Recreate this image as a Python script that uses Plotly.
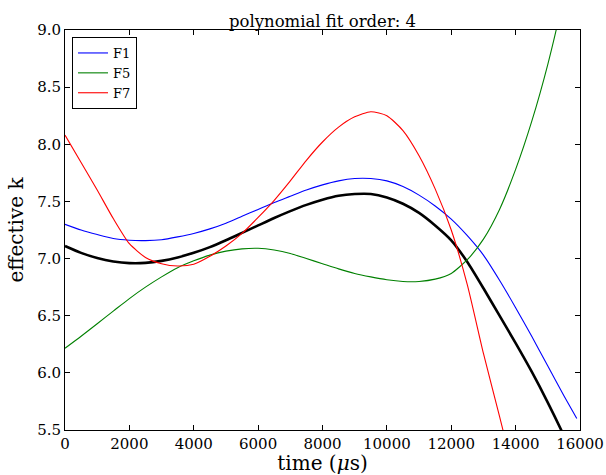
import plotly.graph_objects as go

# time samples (microseconds)
time_us = [0, 500, 1000, 1500, 2000, 2500, 3000, 3500, 4000, 4500, 5000, 5500,
           6000, 6500, 7000, 7500, 8000, 8500, 9000, 9500, 10000, 10500, 11000,
           11500, 12000, 12500, 13000, 13500, 14000, 14500, 15000, 15500, 15900]

# series values
f1 = [7.30, 7.25, 7.21, 7.175, 7.16, 7.157, 7.165, 7.19, 7.22, 7.26, 7.31, 7.37,
      7.43, 7.49, 7.545, 7.60, 7.645, 7.68, 7.70, 7.70, 7.68, 7.63, 7.555,
      7.46, 7.345, 7.20, 7.03, 6.81, 6.57, 6.32, 6.06, 5.80, 5.60]
f5 = [6.215, 6.32, 6.43, 6.54, 6.65, 6.75, 6.84, 6.92, 6.98, 7.03, 7.065, 7.085,
      7.09, 7.075, 7.045, 7.00, 6.955, 6.91, 6.87, 6.84, 6.815, 6.80, 6.80,
      6.82, 6.87, 6.99, 7.17, 7.43, 7.78, 8.20, 8.70, 9.30, 9.85]
f7 = [8.08, 7.84, 7.60, 7.35, 7.13, 7.01, 6.955, 6.935, 6.95, 7.02, 7.11, 7.22,
      7.36, 7.51, 7.68, 7.86, 8.02, 8.15, 8.24, 8.285, 8.25, 8.12, 7.90,
      7.61, 7.25, 6.77, 6.17, 5.62, 5.05, 4.45, 3.85, 3.20, 2.70]
mean_fit = [7.11, 7.05, 7.005, 6.975, 6.96, 6.962, 6.98, 7.01, 7.05, 7.10, 7.16, 7.225,
            7.29, 7.355, 7.415, 7.47, 7.515, 7.55, 7.565, 7.565, 7.535, 7.48, 7.40,
            7.29, 7.16, 6.97, 6.74, 6.50, 6.26, 6.01, 5.74, 5.45, 5.20]

x_ticks = [0, 2000, 4000, 6000, 8000, 10000, 12000, 14000, 16000]
y_ticks = [5.5, 6.0, 6.5, 7.0, 7.5, 8.0, 8.5, 9.0]

FONT = "DejaVu Serif"
LINE_SHAPE = dict(shape="spline", smoothing=0.6)

fig = go.Figure()
fig.add_trace(go.Scatter(x=time_us, y=mean_fit, mode="lines", showlegend=False,
                         line=dict(color="black", width=2.6, **LINE_SHAPE)))
fig.add_trace(go.Scatter(x=time_us, y=f1, mode="lines", name="F1",
                         line=dict(color="#0000ff", width=1.1, **LINE_SHAPE)))
fig.add_trace(go.Scatter(x=time_us, y=f5, mode="lines", name="F5",
                         line=dict(color="#008000", width=1.1, **LINE_SHAPE)))
fig.add_trace(go.Scatter(x=time_us, y=f7, mode="lines", name="F7",
                         line=dict(color="#ff0000", width=1.1, **LINE_SHAPE)))

fig.update_layout(
    width=606, height=475,
    margin=dict(l=65, r=26, t=30, b=45),
    paper_bgcolor="white", plot_bgcolor="white",
    font=dict(family=FONT, color="black", size=15),
    title=dict(text="polynomial fit order: 4", x=0.5, xref="paper", xanchor="center",
               y=1, yref="paper", yanchor="bottom", pad=dict(b=3),
               font=dict(family=FONT, size=16.5)),
    legend=dict(x=0.0136, y=0.9825, xanchor="left", yanchor="top",
                bordercolor="black", borderwidth=1, bgcolor="white",
                font=dict(family=FONT, size=13), tracegroupgap=0),
    xaxis=dict(range=[0, 16000], tickvals=x_ticks, ticktext=[str(v) for v in x_ticks],
               showgrid=False, zeroline=False, showline=True, linecolor="black", linewidth=1,
               mirror="ticks", ticks="inside", ticklen=5, tickcolor="black",
               tickfont=dict(family=FONT, size=15),
               title=dict(text="time (<i>μ</i>s)", font=dict(family=FONT, size=20), standoff=4),
               automargin=False),
    yaxis=dict(range=[5.5, 9.0], tickvals=y_ticks, ticktext=[f"{v:.1f}" for v in y_ticks],
               showgrid=False, zeroline=False, showline=True, linecolor="black", linewidth=1,
               mirror="ticks", ticks="inside", ticklen=5, tickcolor="black",
               tickfont=dict(family=FONT, size=15),
               title=dict(text="effective k", font=dict(family=FONT, size=20), standoff=8),
               automargin=False),
)

fig.write_html("out.html")
